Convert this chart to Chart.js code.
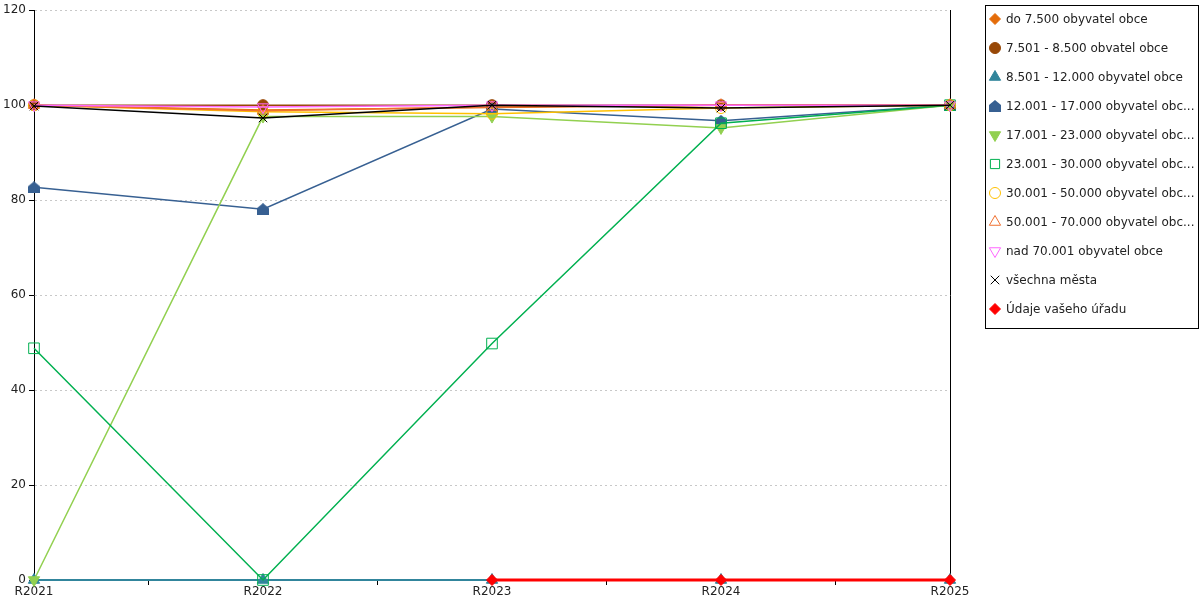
<!DOCTYPE html>
<html>
<head>
<meta charset="utf-8">
<script src="https://cdn.jsdelivr.net/npm/chart.js@4.4.0/dist/chart.umd.min.js"></script>
<style>
  html, body { margin: 0; padding: 0; background: #fff; }
  #wrap { width: 1200px; height: 600px; }
</style>
</head>
<body>
<div id="wrap"><canvas id="chart"></canvas></div>
<script>
const years = ['R2021', 'R2022', 'R2023', 'R2024', 'R2025'];
const yTicks = [0, 20, 40, 60, 80, 100, 120];

const seriesNames = [
    'do 7.500 obyvatel obce',
    '7.501 - 8.500 obvatel obce',
    '8.501 - 12.000 obyvatel obce',
    '12.001 - 17.000 obyvatel obce',
    '17.001 - 23.000 obyvatel obce',
    '23.001 - 30.000 obyvatel obce',
    '30.001 - 50.000 obyvatel obce',
    '50.001 - 70.000 obyvatel obce',
    'nad 70.001 obyvatel obce',
    'všechna města',
    'Údaje vašeho úřadu'
];

const do7500 = [100, 99, 99.5, 100, 100];
const do8500 = [100, 100, 100, 100, 100];
const do12000 = [0, 0, 0, 0, 0];
const do17000 = [82.7, 78.1, 99.2, 96.7, 100];
const do23000 = [0, 97.6, 97.6, 95.2, 100];
const do30000 = [48.8, 0, 49.8, 96.2, 100];
const do50000 = [100, 98.6, 98.2, 99.4, 100];
const do70000 = [100, 98.8, 99.6, 100, 100];
const nad70001 = [100, 99.6, 100, 100, 100];
const vsechnaMesta = [99.8, 97.3, 100, 99.4, 100];
const vasUrad = [null, null, 0, 0, 0];

function houseMarker(color) {
    const c = document.createElement('canvas');
    c.width = 12;
    c.height = 12;
    const g = c.getContext('2d');
    g.fillStyle = color;
    g.beginPath();
    g.moveTo(6, 0);
    g.lineTo(12, 5);
    g.lineTo(12, 12);
    g.lineTo(0, 12);
    g.lineTo(0, 5);
    g.closePath();
    g.fill();
    return c;
}

const none = 'rgba(0,0,0,0)';

// style per series: [line colour, point style, rotation, fill, line width, marker radius]
const styles = [
    ['#e46c0a', 'rectRot', 0, '#e46c0a', 1.5, 5.5],
    ['#984807', 'circle', 0, '#984807', 1.5, 5.5],
    ['#31859c', 'triangle', 0, '#31859c', 2, 6.5],
    ['#376092', houseMarker('#376092'), 0, '#376092', 1.5, 6],
    ['#92d050', 'triangle', 180, '#92d050', 1.5, 6.5],
    ['#00b050', 'rect', 0, none, 1.5, 7.5],
    ['#ffc000', 'circle', 0, none, 1.5, 5.5],
    ['#f0702f', 'triangle', 0, none, 1.5, 6.5],
    ['#ff66ff', 'triangle', 180, none, 1.5, 6.5],
    ['#000000', 'crossRot', 0, none, 1.5, 6],
    ['#ff0000', 'rectRot', 0, '#ff0000', 3, 5.5]
];

const allData = [do7500, do8500, do12000, do17000, do23000, do30000,
    do50000, do70000, nad70001, vsechnaMesta, vasUrad];

const datasets = allData.map((values, i) => {
    const [color, pointStyle, rotation, fill, width, radius] = styles[i];
    return {
        label: seriesNames[i],
        data: values,
        borderColor: color,
        backgroundColor: color,
        borderWidth: width,
        pointStyle: pointStyle,
        rotation: rotation,
        pointRadius: radius,
        pointBackgroundColor: fill,
        pointBorderColor: color,
        pointBorderWidth: 1,
        tension: 0,
        spanGaps: false,
        clip: false,
        order: allData.length - i
    };
});

function fitText(ctx, text) {
    if (ctx.measureText(text).width <= 181) return text;
    let t = text;
    while (t.length && ctx.measureText(t + '...').width > 192) t = t.slice(0, -1);
    return t + '...';
}

const boxLegend = {
    id: 'boxLegend',
    afterDraw(chart) {
        const ctx = chart.ctx;
        ctx.save();
        ctx.strokeStyle = '#000';
        ctx.lineWidth = 1;
        ctx.strokeRect(985.5, 5.5, 213, 323);
        ctx.font = '12px "DejaVu Sans"';
        ctx.textBaseline = 'middle';
        chart.data.datasets.forEach((ds, i) => {
            const y = 19 + i * 29;
            ctx.save();
            ctx.fillStyle = ds.pointBackgroundColor;
            ctx.strokeStyle = ds.pointBorderColor;
            ctx.lineWidth = 1;
            Chart.helpers.drawPoint(ctx, {
                pointStyle: ds.pointStyle,
                rotation: ds.rotation,
                radius: Math.min(ds.pointRadius, 6.5),
                borderWidth: 1
            }, 995, y);
            ctx.restore();
            ctx.fillStyle = '#222';
            ctx.fillText(fitText(ctx, ds.label), 1006, y + 1);
        });
        ctx.restore();
    }
};

new Chart(document.getElementById('chart'), {
    type: 'line',
    data: { labels: years, datasets: datasets },
    plugins: [boxLegend],
    options: {
        responsive: true,
        maintainAspectRatio: false,
        animation: false,
        layout: { padding: { top: 10, right: 250, left: 0, bottom: 0 } },
        plugins: {
            legend: { display: false },
            tooltip: { enabled: false }
        },
        scales: {
            x: {
                type: 'category',
                offset: false,
                grid: { offset: true, drawOnChartArea: false, color: '#000', tickLength: 5 },
                border: { color: '#000' },
                ticks: {
                    color: '#222',
                    font: { family: 'DejaVu Sans', size: 12 },
                    padding: 0,
                    maxRotation: 0,
                    autoSkip: false
                },
                afterFit(s) { s.height = 20; }
            },
            y: {
                min: 0,
                max: 120,
                afterBuildTicks(s) { s.ticks = yTicks.map(v => ({ value: v })); },
                ticks: {
                    color: '#222',
                    font: { family: 'DejaVu Sans', size: 12 },
                    padding: 3
                },
                grid: { color: '#c8c8c8', tickColor: '#000', tickLength: 5 },
                border: { color: '#000', dash: [2, 3] },
                afterFit(s) { s.width = 34; }
            },
            y2: {
                position: 'right',
                min: 0,
                max: 120,
                ticks: { display: false },
                grid: { display: false },
                border: { color: '#000' },
                afterFit(s) { s.width = 0; }
            }
        }
    }
});
</script>
</body>
</html>
